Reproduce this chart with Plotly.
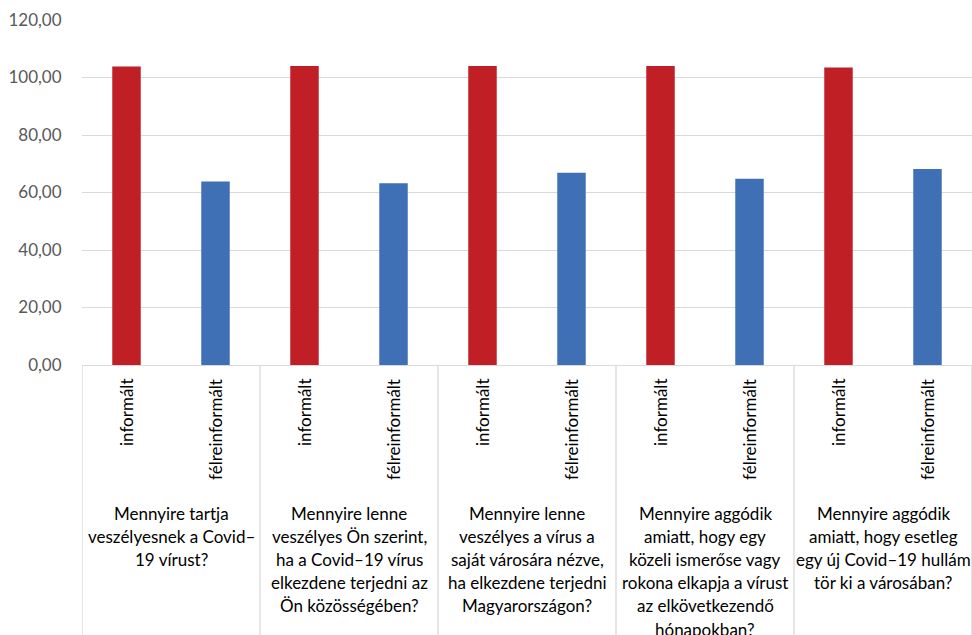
import plotly.graph_objects as go

questions = [
    ["Mennyire tartja", "veszélyesnek a Covid–", "19 vírust?"],
    ["Mennyire lenne", "veszélyes Ön szerint,", "ha a Covid–19 vírus", "elkezdene terjedni az", "Ön közösségében?"],
    ["Mennyire lenne", "veszélyes a vírus a", "saját városára nézve,", "ha elkezdene terjedni", "Magyarországon?"],
    ["Mennyire aggódik", "amiatt, hogy egy", "közeli ismerőse vagy", "rokona elkapja a vírust", "az elkövetkezendő", "hónapokban?"],
    ["Mennyire aggódik", "amiatt, hogy esetleg", "egy új Covid–19 hullám", "tör ki a városában?"],
]
groups = ["informált", "félreinformált"]
informalt = [103.8, 104.0, 104.0, 104.0, 103.5]
felreinformalt = [63.8, 63.2, 66.9, 64.8, 68.2]
y_ticks = [0, 20, 40, 60, 80, 100, 120]

RED = "#C01F26"
BLUE = "#3F6FB5"
FONT = "Lato"
PLOT_H = 345.0

n = len(questions)
x_inf = [2 * i for i in range(n)]
x_fel = [2 * i + 1 for i in range(n)]

fig = go.Figure()
fig.add_trace(go.Bar(x=x_inf, y=informalt, marker=dict(color=RED, line=dict(width=0)),
                     width=0.32, name=groups[0]))
fig.add_trace(go.Bar(x=x_fel, y=felreinformalt, marker=dict(color=BLUE, line=dict(width=0)),
                     width=0.32, name=groups[1]))

annotations = []
for i in range(n):
    for j, g in enumerate(groups):
        annotations.append(dict(x=2 * i + j, xref="x", y=-12 / PLOT_H, yref="paper",
                                text=g, textangle=-90, showarrow=False,
                                xanchor="center", yanchor="top",
                                font=dict(family=FONT, size=17, color="#000000")))
    for k, line in enumerate(questions[i]):
        annotations.append(dict(x=2 * i + 0.5, xref="x", y=-(148 + 23.2 * k) / PLOT_H,
                                yref="paper", text=line, showarrow=False,
                                xanchor="center", yanchor="middle", align="center",
                                font=dict(family=FONT, size=17, color="#000000")))

shapes = []
for k in range(n + 1):
    xb = 2 * k - 0.5
    shapes.append(dict(type="line", xref="x", yref="paper", x0=xb, x1=xb,
                       y0=0, y1=-0.8, line=dict(color="#d9d9d9", width=1.3)))

fig.update_layout(
    width=972, height=635,
    margin=dict(l=82, r=0, t=20, b=270),
    plot_bgcolor="white", paper_bgcolor="white",
    barmode="overlay", showlegend=False,
    separators=", ",
    annotations=annotations, shapes=shapes,
    xaxis=dict(range=[-0.5, 2 * n - 0.5], showticklabels=False, showgrid=False,
               zeroline=False, showline=True, linecolor="#d9d9d9", linewidth=1.3,
               ticks=""),
    yaxis=dict(range=[0, 120], tickvals=y_ticks, tickformat=".2f",
               showgrid=True, gridcolor="#d9d9d9", gridwidth=1.3,
               zeroline=False, showline=False,
               ticks="outside", ticklen=16, tickcolor="rgba(0,0,0,0)",
               tickfont=dict(family=FONT, size=17, color="#595959")),
)

fig.write_html("out.html")
